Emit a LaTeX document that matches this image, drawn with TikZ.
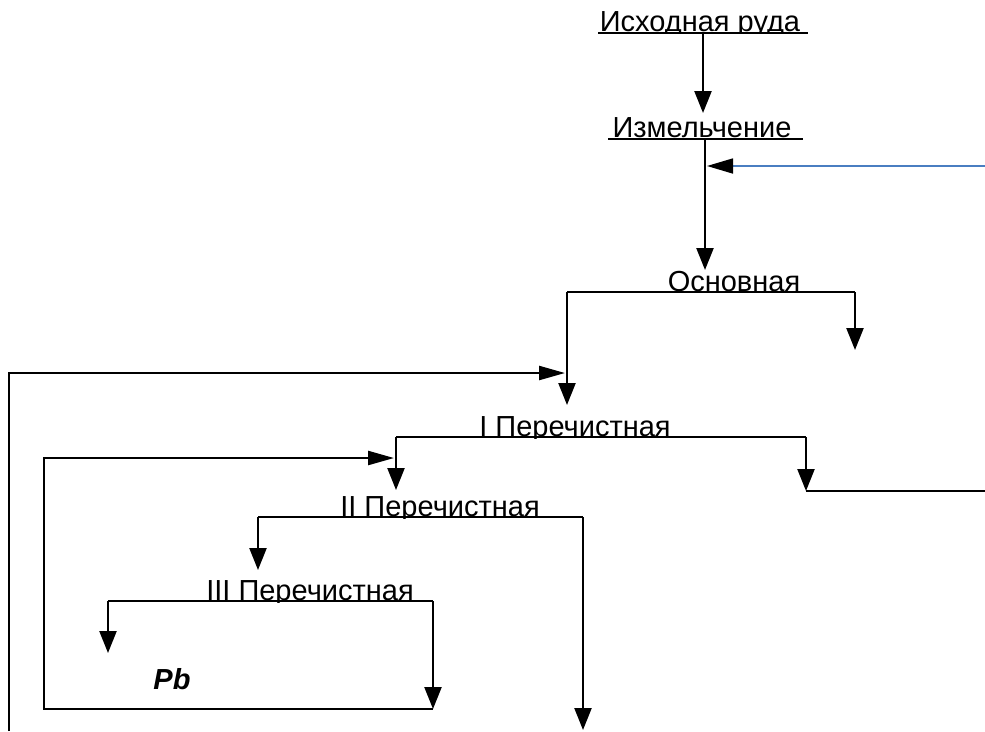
\documentclass[tikz,border=0pt]{standalone}
\usepackage{fontspec}
\setmainfont{Liberation Sans}
\usetikzlibrary{arrows.meta}
\definecolor{feedblue}{RGB}{74,126,193}
\newcommand\cliplabel[4]{%
  \begin{scope}
    \clip (#2-220,#3-40) rectangle (#2+220,#3+2.5);
    \node[lbl] (#1) at (#2,#3) {#4};
  \end{scope}}
\begin{document}
\begin{tikzpicture}[x=1pt,y=-1pt,
  flow/.style={line width=2.4pt, black},
  darrow/.style={flow, -{Triangle[length=22pt,width=17pt]}},
  harrow/.style={flow, -{Triangle[length=26pt,width=14pt]}},
  lbl/.style={anchor=base, inner sep=0pt, font=\fontsize{29}{33}\selectfont},
]
\useasboundingbox (0,0) rectangle (985,731);

% labels
\cliplabel{ore}{700}{31}{Исходная руда}
\cliplabel{mill}{702}{137}{Измельчение}
\cliplabel{main}{734}{291}{Основная}
\cliplabel{clA}{575}{436}{I Перечистная}
\cliplabel{clB}{440}{516}{II Перечистная}
\cliplabel{clC}{310}{600}{III Перечистная}
\node[lbl, font=\fontsize{29}{33}\selectfont\bfseries\itshape] (pb) at (172,689) {Pb};

% coordinates
\coordinate (oreL) at (598,33);  \coordinate (oreR) at (808,33);
\coordinate (oreO) at (703,33);  \coordinate (millIn) at (703,113);
\coordinate (millL) at (608,139); \coordinate (millR) at (803,139);
\coordinate (millO) at (705,139); \coordinate (mainIn) at (705,270);
\coordinate (waterS) at (985,166); \coordinate (waterE) at (707,166);
\coordinate (mainL) at (567,292); \coordinate (mainR) at (855,292);
\coordinate (mainLo) at (567,405); \coordinate (mainRo) at (855,350);
\coordinate (rc1S) at (9,731); \coordinate (rc1C) at (9,373); \coordinate (rc1E) at (565,373);
\coordinate (aL) at (396,437); \coordinate (aR) at (806,437);
\coordinate (aLo) at (396,490); \coordinate (aRo) at (806,491); \coordinate (aRe) at (985,491);
\coordinate (rc2C1) at (44,709); \coordinate (rc2C2) at (44,458); \coordinate (rc2E) at (394,458);
\coordinate (bL) at (258,517); \coordinate (bR) at (583,517);
\coordinate (bLo) at (258,570); \coordinate (bRo) at (583,730);
\coordinate (cL) at (108,601); \coordinate (cR) at (433,601);
\coordinate (cLo) at (108,653); \coordinate (cRo) at (433,709);

% lines
\draw[flow] (oreL) -- (oreR);
\draw[darrow] (oreO) -- (millIn);
\draw[flow] (millL) -- (millR);
\draw[darrow] (millO) -- (mainIn);
\draw[line width=1.6pt, feedblue, -{Triangle[length=26pt,width=15pt,color=black]}] (waterS) -- (waterE);

\draw[flow] (mainL) -- (mainR);
\draw[darrow] (mainL) -- (mainLo);
\draw[darrow] (mainR) -- (mainRo);
\draw[harrow] (rc1S) -- (rc1C) -- (rc1E);

\draw[flow] (aL) -- (aR);
\draw[darrow] (aL) -- (aLo);
\draw[darrow] (aR) -- (aRo);
\draw[flow] (aRo) -- (aRe);

\draw[flow] (bL) -- (bR);
\draw[darrow] (bL) -- (bLo);
\draw[darrow] (bR) -- (bRo);

\draw[flow] (cL) -- (cR);
\draw[darrow] (cL) -- (cLo);
\draw[darrow] (cR) -- (cRo);
\draw[harrow] (cRo) -- (rc2C1) -- (rc2C2) -- (rc2E);
\end{tikzpicture}
\end{document}
